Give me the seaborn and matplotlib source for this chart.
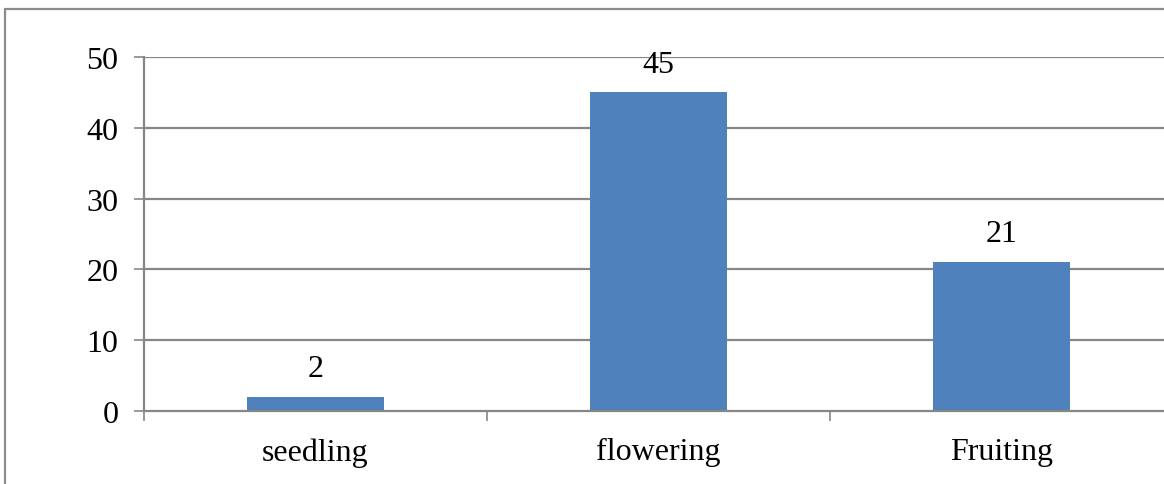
import matplotlib
matplotlib.use("Agg")
import matplotlib.pyplot as plt
from matplotlib.patches import Rectangle
import seaborn as sns
import pandas as pd

stages = ["seedling", "flowering", "Fruiting"]
counts = [2, 45, 21]
y_ticks = [0, 10, 20, 30, 40, 50]

df = pd.DataFrame({"stage": stages, "count": counts})

sns.set_theme(style="white")
plt.rcParams["font.family"] = ["Liberation Serif", "DejaVu Serif"]

W, H = 1164, 485
FS = 23
fig = plt.figure(figsize=(W / 100, H / 100), dpi=100)
ax = fig.add_axes([144 / W, (H - 412) / H, 1029 / W, 354 / H])

grid_c = "#868686"
ax.set_axisbelow(True)
for v in y_ticks[1:]:
    ax.axhline(v, color=grid_c, lw=1.6, zorder=0)

sns.barplot(data=df, x="stage", y="count", color="#4F81BD", saturation=1,
            width=0.4, linewidth=0, ax=ax, zorder=2)

for i, v in enumerate(counts):
    ax.annotate(str(v), (i, v), xytext=(0, 10), textcoords="offset points",
                ha="center", va="bottom", fontsize=FS, color="black")

ax.set_ylim(0, 50)
ax.set_xlim(-0.5, 2.5)
ax.set_yticks(y_ticks)
ax.set_yticklabels([str(t) for t in y_ticks])
ax.set_xticks([-0.5, 0.5, 1.5], minor=False)
ax.set_xticklabels([])
ax.set_xticks([0, 1, 2], minor=True)
ax.set_xticklabels(stages, minor=True)
ax.tick_params(axis="x", which="major", direction="out", length=7.5, width=1.2,
               color=grid_c, bottom=True)
ax.tick_params(axis="x", which="minor", length=0, pad=19, labelsize=FS,
               labelcolor="black", bottom=True)
ax.tick_params(axis="y", direction="out", length=7.5, width=1.2, color=grid_c,
               left=True, pad=11, labelsize=FS, labelcolor="black")

for s in ["top", "right"]:
    ax.spines[s].set_visible(False)
for s in ["left", "bottom"]:
    ax.spines[s].set_color(grid_c)
    ax.spines[s].set_linewidth(1.6)
ax.set_xlabel("")
ax.set_ylabel("")

# outer chart border
fig.patches.append(Rectangle((5 / W, -0.2), 1.2, (H - 10) / H + 0.2,
                             transform=fig.transFigure, fill=False,
                             edgecolor="#8c8c8c", lw=1.6, clip_on=False))

fig.savefig("out.png", dpi=100)
